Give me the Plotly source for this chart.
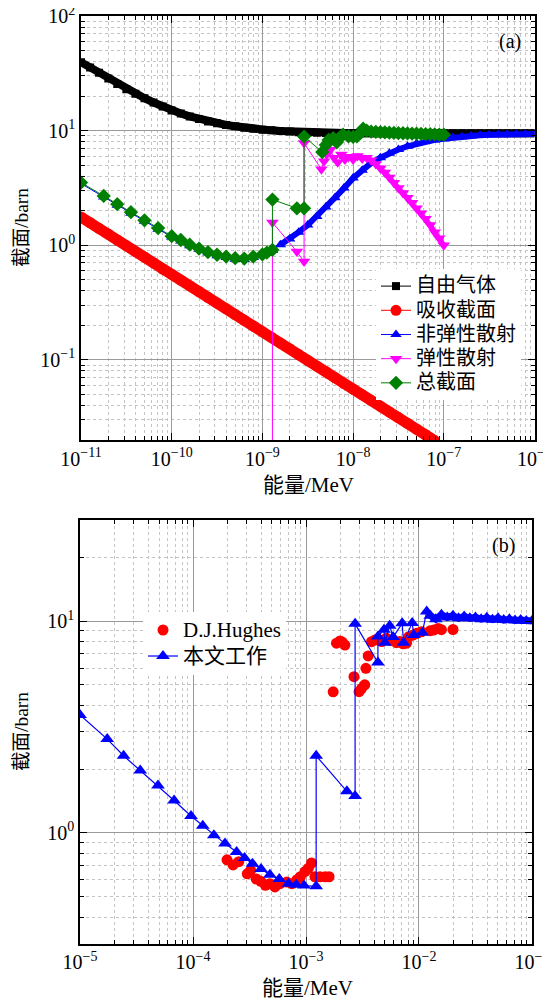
import plotly.graph_objects as go

# ---------------- panel (a) data ----------------
free_gas_E = [1.00e-11, 1.26e-11, 1.58e-11, 2.00e-11, 2.51e-11, 3.16e-11, 3.98e-11, 5.01e-11, 6.31e-11, 7.94e-11,
              1.00e-10, 1.26e-10, 1.58e-10, 2.00e-10, 2.51e-10, 3.16e-10, 3.98e-10, 5.01e-10, 6.31e-10, 7.94e-10,
              1.00e-9, 1.26e-9, 1.58e-9, 2.00e-9, 2.51e-9, 3.16e-9, 3.98e-9, 5.01e-9, 6.31e-9, 7.94e-9,
              1.00e-8, 1.26e-8, 1.58e-8, 2.00e-8, 2.51e-8, 3.16e-8, 3.98e-8, 5.01e-8, 6.31e-8, 7.94e-8,
              1.00e-7, 1.26e-7, 1.58e-7, 2.00e-7, 2.51e-7, 3.16e-7, 3.98e-7, 5.01e-7, 6.31e-7, 7.94e-7,
              1.00e-6]
free_gas_xs = [39.5, 35.5, 32.0, 28.5, 25.5, 23.0, 21.0, 19.2, 17.6, 16.2,
               15.0, 14.1, 13.3, 12.6, 12.0, 11.6, 11.2, 10.9, 10.6, 10.4,
               10.2, 10.05, 9.9, 9.8, 9.7, 9.65, 9.6, 9.55, 9.55, 9.5,
               9.5, 9.5, 9.5, 9.5, 9.5, 9.5, 9.5, 9.5, 9.5, 9.5,
               9.5, 9.5, 9.5, 9.5, 9.5, 9.5, 9.5, 9.5, 9.5, 9.5,
               9.5]

absorption_E = [1.00e-11, 1.26e-11, 1.58e-11, 2.00e-11, 2.51e-11, 3.16e-11, 3.98e-11, 5.01e-11, 6.31e-11, 7.94e-11,
                1.00e-10, 1.26e-10, 1.58e-10, 2.00e-10, 2.51e-10, 3.16e-10, 3.98e-10, 5.01e-10, 6.31e-10, 7.94e-10,
                1.00e-9, 1.26e-9, 1.58e-9, 2.00e-9, 2.51e-9, 3.16e-9, 3.98e-9, 5.01e-9, 6.31e-9, 7.94e-9,
                1.00e-8, 1.26e-8, 1.58e-8, 2.00e-8, 2.51e-8, 3.16e-8, 3.98e-8, 5.01e-8, 6.31e-8, 7.94e-8]
absorption_xs = [1.76, 1.57, 1.40, 1.25, 1.11, 0.99, 0.88, 0.79, 0.70, 0.62,
                 0.556, 0.496, 0.442, 0.394, 0.351, 0.313, 0.279, 0.248, 0.221, 0.197,
                 0.176, 0.157, 0.140, 0.125, 0.111, 0.099, 0.088, 0.079, 0.070, 0.062,
                 0.0556, 0.0496, 0.0442, 0.0394, 0.0351, 0.0313, 0.0279, 0.0248, 0.0221, 0.0197]

inelastic_E = [1.00e-11, 1.78e-11, 2.51e-11, 3.55e-11, 5.01e-11, 7.08e-11, 1.00e-10, 1.26e-10, 1.58e-10, 2.00e-10,
               2.51e-10, 3.16e-10, 3.98e-10, 5.01e-10, 6.31e-10, 7.94e-10, 1.00e-9, 1.12e-9, 1.29e-9,
               1.58e-9, 2.00e-9, 2.51e-9, 3.16e-9, 3.98e-9, 5.01e-9, 6.31e-9, 7.94e-9,
               1.00e-8, 1.26e-8, 1.58e-8, 2.00e-8, 2.51e-8, 3.16e-8, 3.98e-8, 5.01e-8, 6.31e-8, 7.94e-8,
               1.00e-7, 1.26e-7, 1.58e-7, 2.00e-7, 2.51e-7, 3.16e-7, 3.98e-7, 5.01e-7, 6.31e-7, 7.94e-7,
               1.00e-6]
inelastic_xs = [3.45, 2.63, 2.23, 1.90, 1.62, 1.38, 1.18, 1.09, 0.99, 0.92,
                0.855, 0.81, 0.78, 0.755, 0.75, 0.78, 0.815, 0.845, 0.90,
                1.01, 1.13, 1.30, 1.50, 1.78, 2.15, 2.60, 3.15,
                3.85, 4.50, 5.20, 5.80, 6.35, 6.85, 7.30, 7.70, 8.05, 8.30,
                8.50, 8.70, 8.85, 9.00, 9.10, 9.18, 9.24, 9.28, 9.31, 9.33,
                9.35]

elastic_E = [1.29e-9, 1.29e-9, 2.40e-9, 2.88e-9, 2.88e-9, 4.47e-9, 4.79e-9, 5.13e-9, 5.62e-9, 6.17e-9,
             6.76e-9, 7.41e-9, 8.13e-9, 8.91e-9, 1.00e-8, 1.12e-8, 1.26e-8, 1.41e-8, 1.58e-8, 1.78e-8,
             2.00e-8, 2.24e-8, 2.51e-8, 2.82e-8, 3.16e-8, 3.55e-8, 3.98e-8, 4.47e-8, 5.01e-8, 5.62e-8,
             6.31e-8, 7.08e-8, 7.94e-8, 8.91e-8, 1.00e-7]
elastic_xs = [1e-4, 1.58, 0.88, 0.72, 7.8, 4.6, 5.4, 6.2, 6.8, 5.8,
              5.3, 6.2, 5.6, 5.9, 5.6, 6.0, 5.7, 5.8, 5.5, 5.1,
              4.7, 4.3, 3.9, 3.5, 3.15, 2.85, 2.6, 2.35, 2.1, 1.9,
              1.7, 1.5, 1.3, 1.15, 1.0]

total_E = [1.00e-11, 1.78e-11, 2.51e-11, 3.55e-11, 5.01e-11, 7.08e-11, 1.00e-10, 1.26e-10, 1.58e-10, 2.00e-10,
           2.51e-10, 3.16e-10, 3.98e-10, 5.01e-10, 6.31e-10, 7.94e-10, 1.00e-9, 1.12e-9, 1.29e-9,
           1.29e-9, 2.40e-9, 2.88e-9, 2.88e-9, 4.57e-9, 5.01e-9, 5.37e-9, 6.03e-9, 6.61e-9, 7.08e-9,
           7.76e-9, 8.91e-9, 1.00e-8, 1.10e-8, 1.20e-8, 1.29e-8, 1.41e-8, 1.58e-8, 1.78e-8, 2.00e-8,
           2.24e-8, 2.51e-8, 2.82e-8, 3.16e-8, 3.55e-8, 3.98e-8, 4.47e-8, 5.01e-8, 5.62e-8, 6.31e-8,
           7.08e-8, 7.94e-8, 8.91e-8, 1.00e-7]
total_xs = [3.52, 2.69, 2.28, 1.94, 1.65, 1.41, 1.20, 1.11, 1.01, 0.935,
            0.87, 0.825, 0.795, 0.77, 0.765, 0.795, 0.83, 0.86, 0.91,
            2.5, 2.1, 2.1, 8.87, 6.5, 7.5, 8.3, 8.6, 7.9, 8.7,
            9.2, 8.9, 8.8, 8.9, 9.5, 10.4, 10.0, 9.8, 9.75, 9.7,
            9.65, 9.6, 9.55, 9.5, 9.48, 9.45, 9.42, 9.4, 9.37, 9.33,
            9.3, 9.26, 9.23, 9.2]

# ---------------- panel (b) data ----------------
hughes_E = [2.00e-4, 2.26e-4, 2.54e-4, 3.02e-4, 3.24e-4, 3.63e-4, 3.98e-4, 4.37e-4, 4.79e-4, 5.31e-4,
            5.89e-4, 6.76e-4, 7.50e-4, 8.32e-4, 8.91e-4, 9.77e-4, 1.05e-3, 1.12e-3, 1.20e-3, 1.33e-3,
            1.48e-3, 1.60e-3, 1.74e-3, 1.86e-3, 2.00e-3, 2.09e-3, 2.21e-3, 2.66e-3, 2.95e-3, 3.11e-3,
            3.31e-3, 3.39e-3, 3.55e-3, 3.80e-3, 4.07e-3, 4.37e-3, 4.68e-3, 5.13e-3, 5.50e-3, 5.89e-3,
            6.31e-3, 6.76e-3, 7.24e-3, 7.76e-3, 8.13e-3, 8.91e-3, 9.55e-3, 1.05e-2, 1.26e-2, 1.35e-2,
            1.48e-2, 1.58e-2, 2.00e-2]
hughes_xs = [0.745, 0.705, 0.73, 0.64, 0.665, 0.605, 0.59, 0.565, 0.575, 0.555,
             0.575, 0.585, 0.575, 0.60, 0.62, 0.655, 0.68, 0.72, 0.62, 0.62,
             0.62, 0.62, 4.63, 7.86, 8.05, 7.95, 7.7, 5.46, 4.64, 4.81,
             5.0, 5.98, 6.84, 7.99, 8.13, 8.2, 8.0, 8.3, 8.1, 8.15,
             7.9, 8.0, 7.8, 7.86, 8.43, 8.6, 8.75, 8.9, 9.0, 9.06,
             9.23, 9.1, 9.12]

work_E = [1.00e-5, 1.74e-5, 2.43e-5, 3.41e-5, 4.90e-5, 6.80e-5, 9.60e-5, 1.22e-4, 1.53e-4, 1.92e-4,
          2.43e-4, 2.86e-4, 3.36e-4, 4.00e-4, 4.79e-4, 5.80e-4, 7.00e-4, 8.20e-4, 9.60e-4, 1.23e-3,
          1.23e-3, 2.30e-3, 2.72e-3, 2.72e-3, 4.33e-3, 4.33e-3, 4.90e-3, 5.00e-3, 5.50e-3, 5.90e-3,
          7.10e-3, 7.30e-3, 8.70e-3, 9.00e-3, 1.07e-2, 1.17e-2,
          1.26e-2, 1.41e-2, 1.58e-2, 1.78e-2, 2.00e-2, 2.24e-2, 2.51e-2, 2.82e-2, 3.16e-2, 3.55e-2,
          3.98e-2, 4.47e-2, 5.01e-2, 5.62e-2, 6.31e-2, 7.08e-2, 7.94e-2, 8.91e-2, 1.00e-1]
work_xs = [3.6, 2.77, 2.31, 1.97, 1.67, 1.42, 1.20, 1.08, 0.973, 0.889,
           0.811, 0.76, 0.715, 0.675, 0.634, 0.605, 0.575, 0.569, 0.563, 0.559,
           2.31, 1.57, 1.49, 9.7, 6.37, 8.45, 9.1, 7.9, 9.5, 8.4,
           9.75, 7.9, 9.8, 8.6, 8.8, 11.1,
           10.6, 10.2, 10.7, 10.4, 10.6, 10.3, 10.5, 10.3, 10.4, 10.2,
           10.35, 10.15, 10.3, 10.1, 10.2, 10.05, 10.1, 10.0, 10.0]

# tick labels
a_x_ticks = [1e-11, 1e-10, 1e-9, 1e-8, 1e-7, 1e-6]
a_x_labels = ["10<sup>\u221211</sup>", "10<sup>\u221210</sup>", "10<sup>\u22129</sup>",
              "10<sup>\u22128</sup>", "10<sup>\u22127</sup>", "10<sup>\u22126</sup>"]
a_y_ticks = [0.1, 1, 10, 100]
a_y_labels = ["10<sup>\u22121</sup>", "10<sup>0</sup>", "10<sup>1</sup>", "10<sup>2</sup>"]
b_x_ticks = [1e-5, 1e-4, 1e-3, 1e-2, 1e-1]
b_x_labels = ["10<sup>\u22125</sup>", "10<sup>\u22124</sup>", "10<sup>\u22123</sup>",
              "10<sup>\u22122</sup>", "10<sup>\u22121</sup>"]
b_y_ticks = [1, 10]
b_y_labels = ["10<sup>0</sup>", "10<sup>1</sup>"]

for a, b in [(free_gas_E, free_gas_xs), (absorption_E, absorption_xs), (inelastic_E, inelastic_xs),
             (elastic_E, elastic_xs), (total_E, total_xs), (hughes_E, hughes_xs), (work_E, work_xs)]:
    assert len(a) == len(b), (len(a), len(b))


def minor_vals(d0, d1, lo, hi):
    out = []
    for d in range(d0, d1 + 1):
        for m in range(2, 10):
            v = m * 10.0 ** d
            if lo < v < hi:
                out.append(v)
    return out


SERIF = "Liberation Serif, 'Noto Sans CJK SC', serif"
CJK = "'Noto Sans CJK SC', 'Liberation Serif', sans-serif"

# page body has an 8px margin: the figure is drawn 8px in from the top-left corner
OFF = 8
W, H = 551 - OFF, 999 - OFF


def px_x(x):
    return (x - OFF) / W


def px_y(y):
    return 1 - (y - OFF) / H


fig = go.Figure()

GREEN = "#008000"


def band(xe, ys, col, width, xa="x", ya="y"):
    # dense-marker band look: a wide stroke under the markers, drawn from the same data
    fig.add_trace(go.Scatter(x=xe, y=ys, mode="lines", xaxis=xa, yaxis=ya, showlegend=False,
                             line=dict(color=col, width=width), hoverinfo="skip"))


def series(name, xe, ys, col, sym, sz, legend_font):
    fig.add_trace(go.Scatter(
        x=xe, y=ys, name='<span style="font-size:%gpx">%s</span>' % (legend_font, name),
        mode="lines+markers", xaxis="x", yaxis="y",
        line=dict(color=col, width=1),
        marker=dict(color=col, symbol=sym, size=sz, line=dict(width=0)),
        legend="legend", hoverinfo="skip"))


LF = 20
band(free_gas_E, free_gas_xs, "#000000", 8)
series("自由气体", free_gas_E, free_gas_xs, "#000000", "square", 8, LF)
band(absorption_E, absorption_xs, "#ff0000", 11)
series("吸收截面", absorption_E, absorption_xs, "#ff0000", "circle", 11, LF)
band(inelastic_E[19:], inelastic_xs[19:], "#0000ff", 6)
series("非弹性散射", inelastic_E, inelastic_xs, "#0000ff", "triangle-up", 10, LF)
band(elastic_E[14:], elastic_xs[14:], "#ff00ff", 5)
series("弹性散射", elastic_E, elastic_xs, "#ff00ff", "triangle-down", 11, LF)
band(total_E[35:], total_xs[35:], GREEN, 6)
series("总截面", total_E, total_xs, GREEN, "diamond", 11, LF)

LF2 = 21
fig.add_trace(go.Scatter(
    x=hughes_E, y=hughes_xs, name='<span style="font-size:%gpx">D.J.Hughes</span>' % LF2,
    mode="markers", xaxis="x2", yaxis="y2",
    marker=dict(color="#ff0000", symbol="circle", size=11, line=dict(width=0)),
    legend="legend2", hoverinfo="skip"))
band(work_E[36:], work_xs[36:], "#0000ff", 7, "x2", "y2")
fig.add_trace(go.Scatter(
    x=work_E, y=work_xs, name='<span style="font-size:%gpx">本文工作</span>' % LF2,
    mode="lines+markers", xaxis="x2", yaxis="y2",
    line=dict(color="#0000ff", width=1.2),
    marker=dict(color="#0000ff", symbol="triangle-up", size=12, line=dict(width=0)),
    legend="legend2", hoverinfo="skip"))


def ax_common(tickvals, ticktext, minor_tv):
    return dict(
        type="log", showline=True, linecolor="black", linewidth=1.5, mirror="ticks",
        ticks="inside", ticklen=7, tickwidth=1.2, tickcolor="black",
        tickmode="array", tickvals=tickvals, ticktext=ticktext,
        tickfont=dict(family=SERIF, size=20, color="black"),
        ticklabeloverflow="allow",
        showgrid=True, gridcolor="#9a9a9a", gridwidth=1, zeroline=False,
        minor=dict(tickmode="array", tickvals=minor_tv, ticks="inside", ticklen=4,
                   tickwidth=1, tickcolor="black", showgrid=True, gridcolor="#c4c4c4",
                   gridwidth=1, griddash="dot"),
        fixedrange=True,
    )


xa = ax_common(a_x_ticks, a_x_labels, minor_vals(-11, -7, 1e-11, 1e-6))
xa.update(range=[-11.0002, -5.9998], domain=[px_x(81), px_x(534.5)], anchor="y")
ya = ax_common(a_y_ticks, a_y_labels, minor_vals(-2, 1, 0.0199, 100))
ya.update(range=[-1.7, 2.0002], domain=[px_y(440), px_y(16)], anchor="x")
xb = ax_common(b_x_ticks, b_x_labels, minor_vals(-5, -2, 1e-5, 0.1))
xb.update(range=[-5.0002, -0.9998], domain=[px_x(80), px_x(532)], anchor="y2")
yb = ax_common(b_y_ticks, b_y_labels, minor_vals(-1, 1, 0.3, 30))
yb.update(range=[-0.5229, 1.4771], domain=[px_y(943.5), px_y(520)], anchor="x2")

ann = []


def add_text(text, px, py, size=20, angle=0, family=SERIF):
    ann.append(dict(text=text, x=px_x(px), y=px_y(py), xref="paper", yref="paper",
                    showarrow=False, textangle=angle, xanchor="center", yanchor="middle",
                    font=dict(family=family, size=size, color="black")))


add_text("截面/barn", 21, 228, size=19.5, angle=-90)
add_text("截面/barn", 21, 732, size=19.5, angle=-90)
add_text("能量/MeV", 308, 485, size=21)
add_text("能量/MeV", 307, 988, size=21)
add_text("(a)", 510, 42, size=20)
add_text("(b)", 503, 545, size=20)

fig.update_layout(
    width=W, height=H, margin=dict(l=0, r=0, t=0, b=0, autoexpand=False),
    paper_bgcolor="white", plot_bgcolor="white",
    xaxis=xa, yaxis=ya, xaxis2=xb, yaxis2=yb,
    annotations=ann, hovermode=False,
    legend=dict(x=px_x(376), y=px_y(269), xanchor="left", yanchor="top",
                bgcolor="white", borderwidth=0, itemwidth=30,
                font=dict(family=CJK, size=16.3, color="black"), tracegroupgap=0),
    legend2=dict(x=px_x(143), y=px_y(612), xanchor="left", yanchor="top",
                 bgcolor="white", borderwidth=0, itemwidth=30,
                 font=dict(family=SERIF, size=17.7, color="black")),
)

fig.write_html("out.html")
